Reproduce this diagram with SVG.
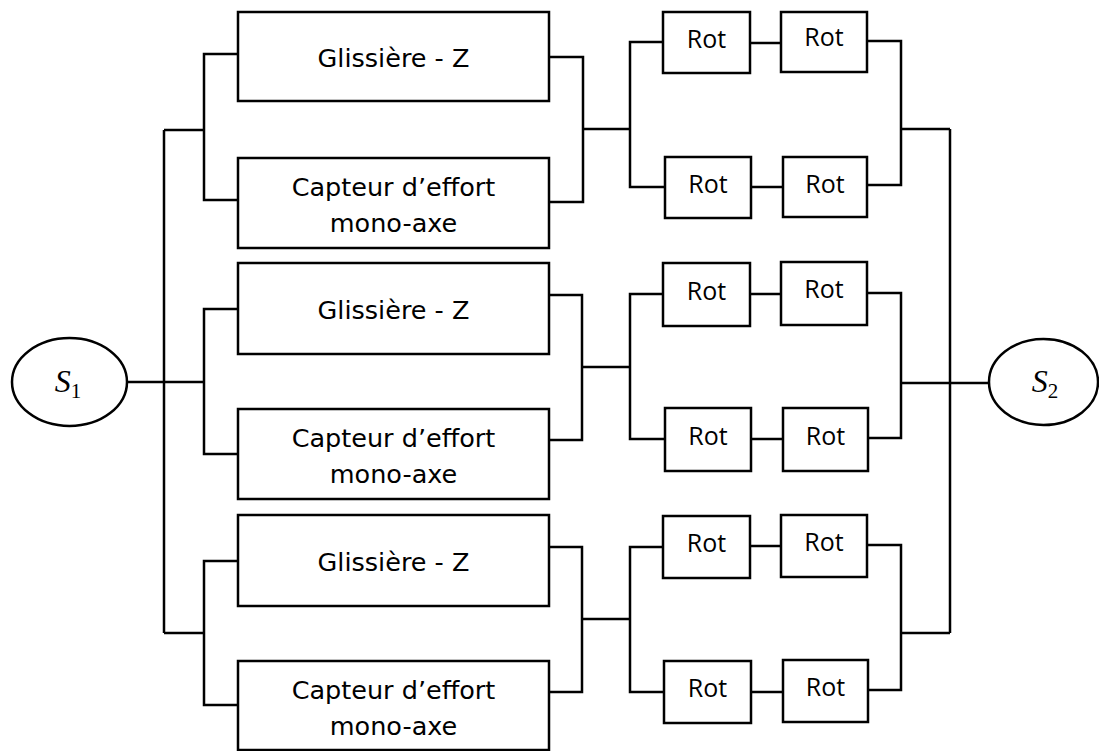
<svg xmlns="http://www.w3.org/2000/svg" width="1099" height="751" viewBox="0 0 1099 751">
<style>
.box{fill:#fff;stroke:#000;stroke-width:2.5}
.ln{fill:none;stroke:#000;stroke-width:2.5}
.big{font-family:"DejaVu Sans","Liberation Sans",sans-serif;font-size:25.5px;fill:#000;text-anchor:middle}
.rot{font-family:"Open Sans","Noto Sans",sans-serif;font-size:25px;fill:#000;text-anchor:middle}
.s{font-family:"Liberation Serif","DejaVu Serif",serif;font-size:32px;font-style:italic;fill:#000;text-anchor:middle}
.sub{font-style:normal;font-size:21px}
</style>
<rect width="1099" height="751" fill="#fff"/>
<g id="connectors" class="ln">
<path d="M164,130 V633 M164,130 H204 M164,633 H204 M127,382 H204"/>
<path d="M950,129 V633 M901,129 H950 M901,633 H950 M901,383 H989"/>
<path d="M238,54 H204 V200 H238"/>
<path d="M549,57 H583 V202 H549 M583,129 H630"/>
<path d="M663,42 H630 V187 H665"/>
<path d="M750,43 H781 M751,187 H783"/>
<path d="M867,41 H901 V185 H867"/>
<path d="M238,309 H204 V454 H238"/>
<path d="M549,295 H582 V440 H549 M582,367 H630"/>
<path d="M663,294 H630 V439 H665"/>
<path d="M750,294 H781 M751,439 H783"/>
<path d="M867,293 H901 V438 H868"/>
<path d="M238,561 H204 V705 H238"/>
<path d="M549,547 H582 V692 H549 M582,619 H630"/>
<path d="M663,547 H630 V692 H664"/>
<path d="M750,546 H781 M751,692 H783"/>
<path d="M867,545 H901 V690 H868"/>
</g>
<g id="S1"><ellipse class="box" cx="69.5" cy="382" rx="57.5" ry="44"/><text class="s" x="68" y="392">S<tspan class="sub" dy="6">1</tspan></text></g>
<g id="S2"><ellipse class="box" cx="1043.5" cy="382" rx="54.5" ry="43"/><text class="s" x="1045" y="392">S<tspan class="sub" dy="6">2</tspan></text></g>
<g id="glissiere1"><rect class="box" x="238" y="12" width="311" height="89"/><text class="big" x="393.5" y="67">Glissière - Z</text></g>
<g id="capteur1"><rect class="box" x="238" y="158" width="311" height="90"/><text class="big" x="393.5" y="196">Capteur d’effort</text><text class="big" x="393.5" y="232">mono-axe</text></g>
<g id="glissiere2"><rect class="box" x="238" y="263" width="311" height="91"/><text class="big" x="393.5" y="319">Glissière - Z</text></g>
<g id="capteur2"><rect class="box" x="238" y="409" width="311" height="90"/><text class="big" x="393.5" y="447">Capteur d’effort</text><text class="big" x="393.5" y="483">mono-axe</text></g>
<g id="glissiere3"><rect class="box" x="238" y="515" width="311" height="91"/><text class="big" x="393.5" y="571">Glissière - Z</text></g>
<g id="capteur3"><rect class="box" x="238" y="661" width="311" height="89"/><text class="big" x="393.5" y="699">Capteur d’effort</text><text class="big" x="393.5" y="735">mono-axe</text></g>
<g id="rot1a"><rect class="box" x="663" y="12" width="87" height="61"/><text class="rot" x="706.5" y="48">Rot</text></g>
<g id="rot1b"><rect class="box" x="781" y="12" width="86" height="60"/><text class="rot" x="824" y="46">Rot</text></g>
<g id="rot1c"><rect class="box" x="665" y="157" width="86" height="61"/><text class="rot" x="708" y="193">Rot</text></g>
<g id="rot1d"><rect class="box" x="783" y="157" width="84" height="60"/><text class="rot" x="825" y="193">Rot</text></g>
<g id="rot2a"><rect class="box" x="663" y="263" width="87" height="63"/><text class="rot" x="706.5" y="300">Rot</text></g>
<g id="rot2b"><rect class="box" x="781" y="262" width="86" height="63"/><text class="rot" x="824" y="298">Rot</text></g>
<g id="rot2c"><rect class="box" x="665" y="408" width="86" height="63"/><text class="rot" x="708" y="445">Rot</text></g>
<g id="rot2d"><rect class="box" x="783" y="408" width="85" height="63"/><text class="rot" x="825.5" y="445">Rot</text></g>
<g id="rot3a"><rect class="box" x="663" y="516" width="87" height="62"/><text class="rot" x="706.5" y="552">Rot</text></g>
<g id="rot3b"><rect class="box" x="781" y="515" width="86" height="62"/><text class="rot" x="824" y="551">Rot</text></g>
<g id="rot3c"><rect class="box" x="664" y="661" width="87" height="62"/><text class="rot" x="707.5" y="697">Rot</text></g>
<g id="rot3d"><rect class="box" x="783" y="660" width="85" height="62"/><text class="rot" x="825.5" y="696">Rot</text></g>
</svg>
